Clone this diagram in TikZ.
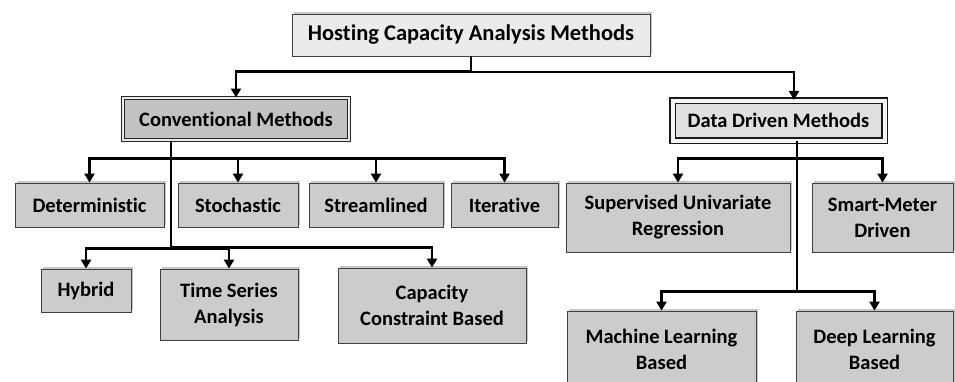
\documentclass[tikz,border=0pt]{standalone}
\usepackage{fontspec}
\setmainfont{Carlito}[Ligatures=NoCommon]
\usepackage{tikz}
\usetikzlibrary{calc,shadows,arrows.meta}

\begin{document}
\begin{tikzpicture}[x=1pt,y=-1pt,
	shade/.style={general shadow={shadow xshift=1.5pt,shadow yshift=2pt,fill=black,opacity=.22}},
	rootbox/.style={draw=black!75,line width=.8pt,fill=black!8,shade,align=center,inner sep=0pt,
		font=\bfseries\fontsize{22.5}{27}\selectfont},
	convbox/.style={draw=black!85,line width=1pt,double=black!8,double distance=2.5pt,fill=black!24,shade,
		align=center,inner sep=0pt,font=\bfseries\fontsize{20.5}{26}\selectfont},
	databox/.style={draw=black!90,line width=1.2pt,double=black!4,double distance=4pt,fill=black!12,shade,
		align=center,inner sep=0pt,font=\bfseries\fontsize{20.5}{26}\selectfont},
	leaf/.style={draw=black!75,line width=.8pt,fill=black!20,shade,align=center,inner sep=0pt,
		font=\bfseries\fontsize{20.5}{26}\selectfont},
	arr/.style={line width=2.6pt,-{Triangle[width=10pt,length=9pt]}}]
	\useasboundingbox[fill=white] (0,0) rectangle (955,381);

	\node[rootbox,minimum width=358pt,minimum height=42pt] (root) at (471,35) {Hosting Capacity Analysis Methods};
	\node[convbox,minimum width=226pt,minimum height=42pt] (conv) at (236,119) {Conventional Methods};
	\node[databox,minimum width=212pt,minimum height=40pt] (data) at (778.5,120.5) {Data Driven Methods};

	% conventional
	\node[leaf,minimum width=149pt,minimum height=44pt] (det) at (89.5,205) {Deterministic};
	\node[leaf,minimum width=120pt,minimum height=44pt] (sto) at (238,205) {Stochastic};
	\node[leaf,minimum width=134pt,minimum height=44pt] (str) at (376,205) {Streamlined};
	\node[leaf,minimum width=107pt,minimum height=44pt] (ite) at (504.5,205) {Iterative};
	\node[leaf,minimum width=90pt,minimum height=43pt] (hyb) at (86,290.5) {Hybrid};
	\node[leaf,minimum width=138pt,minimum height=71pt] (tim) at (229,304.5) {Time Series\\Analysis};
	\node[leaf,minimum width=188pt,minimum height=75pt] (cap) at (432,305.5) {Capacity\\Constraint Based};

	% data driven
	\node[leaf,minimum width=224pt,minimum height=69pt] (sup) at (678,217.5) {Supervised Univariate\\Regression};
	\node[leaf,minimum width=141pt,minimum height=69pt] (sma) at (882.5,217.5) {Smart-Meter\\Driven};
	\node[leaf,minimum width=189pt,minimum height=76pt] (mlb) at (661.5,349) {Machine Learning\\Based};
	\node[leaf,minimum width=157pt,minimum height=76pt] (dlb) at (874.5,349) {Deep Learning\\Based};

	\coordinate (convstem) at ([xshift=-65pt]conv.south);
	\coordinate (datastem) at ([xshift=18.5pt]data.south);

	\draw[arr] (root.south) |- ([yshift=26pt]conv.north) -- (conv.north);
	\draw[arr] (root.south) |- ([xshift=15.5pt,yshift=28pt]data.north) -- ([xshift=15.5pt]data.north);

	\foreach \n in {det,sto,str,ite}
	\draw[arr] (convstem) |- ([yshift=24pt]\n.north) -- (\n.north);
	\foreach \n in {hyb,tim,cap}
	\draw[arr] (convstem) |- ([yshift=20pt]\n.north) -- (\n.north);

	\foreach \n in {sup,sma}
	\draw[arr] (datastem) |- ([yshift=24pt]\n.north) -- (\n.north);
	\foreach \n in {mlb,dlb}
	\draw[arr] (datastem) |- ([yshift=19pt]\n.north) -- (\n.north);
\end{tikzpicture}
\end{document}
